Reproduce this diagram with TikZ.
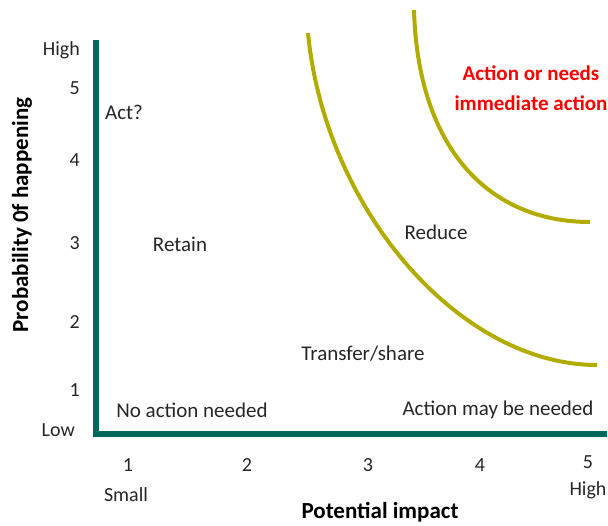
\documentclass[tikz,border=0pt]{standalone}
\usepackage{fontspec}
\setmainfont{Carlito}
\definecolor{axisteal}{HTML}{00675F}
\definecolor{curveolive}{HTML}{B3AC00}
\definecolor{alertred}{HTML}{FF0000}
\begin{document}
\begin{tikzpicture}[x=1pt,y=-1pt,
  lbl/.style={inner sep=0pt,font=\fontsize{21}{25}\selectfont,text=black!85},
  tick/.style={lbl,font=\fontsize{20}{24}\selectfont},
  axtitle/.style={inner sep=0pt,font=\fontsize{23}{27}\selectfont\bfseries},
  redlbl/.style={inner sep=0pt,font=\fontsize{21}{25}\selectfont\bfseries,text=alertred},
  axisline/.style={draw=axisteal,line width=6pt},
  zone/.style={draw=curveolive,line width=4pt}]
\useasboundingbox (0,0) rectangle (608,525);

% axes
\coordinate (ytop) at (96,40);
\coordinate (corner) at (96,434);
\coordinate (xend) at (607,434);
\draw[axisline] (ytop) -- (96,437);
\draw[axisline] (93,434) -- (xend);

% zone boundaries
\coordinate (c1a) at (308,33);
\coordinate (c1b) at (597,365);
\coordinate (c2a) at (414,10);
\coordinate (c2b) at (590,222);
\draw[zone] (c1a) .. controls (325,210) and (460,365) .. (c1b);
\draw[zone] (c2a) .. controls (418,150) and (490,222) .. (c2b);

% vertical axis ticks
\node[tick,anchor=east] (yhigh) at (80,50) {High};
\node[tick,anchor=east] (y5) at (80,88) {5};
\node[tick,anchor=east] (y4) at (80,160) {4};
\node[tick,anchor=east] (y3) at (80,243) {3};
\node[tick,anchor=east] (y2) at (80,322) {2};
\node[tick,anchor=east] (y1) at (80,390) {1};
\node[tick,anchor=east] (ylow) at (75,430) {Low};
\node[axtitle,rotate=90] (ytitle) at (22,215) {Probability 0f happening};

% horizontal axis ticks
\node[tick] (x1) at (128,465) {1};
\node[tick] (x2) at (247,465) {2};
\node[tick] (x3) at (368,465) {3};
\node[tick] (x4) at (480,465) {4};
\node[tick] (x5) at (588,462) {5};
\node[tick] (xsmall) at (126,495) {Small};
\node[tick] (xhigh) at (588,490) {High};
\node[axtitle] (xtitle) at (380,512) {Potential impact};

% zone labels
\node[lbl] (act) at (124,112) {Act?};
\node[lbl] (retain) at (180,244) {Retain};
\node[lbl] (reduce) at (436,232) {Reduce};
\node[lbl] (transfer) at (363,354) {Transfer/share};
\node[lbl] (noaction) at (192,410) {No action needed};
\node[lbl] (mayneed) at (498,410) {Action may be needed};
\node[redlbl] (urgent1) at (531,73) {Action or needs};
\node[redlbl] (urgent2) at (531,103) {immediate action};
\end{tikzpicture}
\end{document}
